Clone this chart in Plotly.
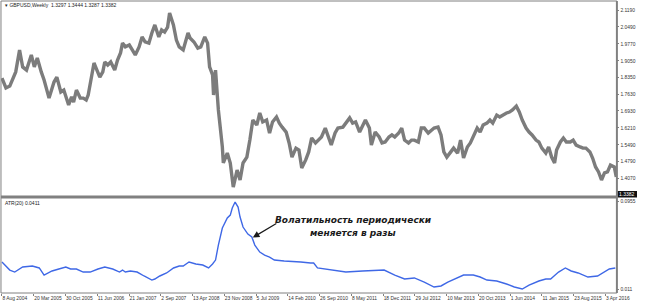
import plotly.graph_objects as go

# ---------------- data ----------------
price_dates = [
 "2004-08-08","2004-09-05","2004-10-02","2004-11-13","2004-12-10","2005-01-01","2005-01-28","2005-03-03","2005-03-24","2005-04-14",
 "2005-05-12","2005-06-01","2005-07-06","2005-07-27","2005-08-10","2005-08-30","2005-09-27","2005-10-18","2005-11-21","2005-12-12",
 "2005-12-26","2006-01-15","2006-02-11","2006-03-04","2006-03-25","2006-04-08","2006-04-28","2006-05-19","2006-06-02","2006-06-29",
 "2006-07-20","2006-08-03","2006-08-24","2006-09-14","2006-10-12","2006-11-01","2006-11-22","2006-12-06","2006-12-26","2007-01-23",
 "2007-02-13","2007-03-06","2007-04-02","2007-04-23","2007-05-14","2007-06-10","2007-07-01","2007-07-22","2007-08-19","2007-09-08",
 "2007-09-29","2007-10-20","2007-11-03","2007-11-30","2007-12-21","2008-01-10","2008-02-07","2008-02-20","2008-03-12","2008-03-26",
 "2008-04-23","2008-05-20","2008-06-10","2008-07-08","2008-07-28","2008-08-11","2008-09-01","2008-09-08","2008-09-22","2008-10-12",
 "2008-10-26","2008-11-09","2008-11-16","2008-12-14","2009-01-04","2009-01-25","2009-02-21","2009-03-14","2009-04-04","2009-05-01",
 "2009-05-22","2009-06-12","2009-07-10","2009-07-31","2009-08-21","2009-09-17","2009-10-08","2009-10-29","2009-11-26","2009-12-16",
 "2010-01-05","2010-02-02","2010-02-23","2010-03-15","2010-04-12","2010-05-03","2010-05-23","2010-06-20","2010-07-11","2010-08-01",
 "2010-08-28","2010-09-18","2010-10-09","2010-11-05","2010-11-26","2010-12-17","2011-01-13","2011-02-02","2011-03-09","2011-03-30",
 "2011-04-26","2011-05-17","2011-06-07","2011-07-05","2011-07-26","2011-08-15","2011-09-12","2011-09-26","2011-10-23","2011-11-20",
 "2011-12-10","2012-01-01","2012-01-28","2012-02-18","2012-03-09","2012-04-06","2012-04-27","2012-05-17","2012-06-14","2012-07-05",
 "2012-07-25","2012-08-22","2012-09-12","2012-10-03","2012-10-31","2012-11-21","2012-12-11","2013-01-08","2013-01-29","2013-02-18",
 "2013-03-11","2013-04-08","2013-04-28","2013-05-26","2013-06-16","2013-07-07","2013-08-03","2013-08-24","2013-09-14","2013-10-11",
 "2013-11-01","2013-11-22","2013-12-19","2014-01-09","2014-01-29","2014-02-26","2014-03-19","2014-04-08","2014-05-06","2014-05-27",
 "2014-06-17","2014-07-14","2014-08-04","2014-08-25","2014-09-21","2014-10-12","2014-11-02","2014-11-30","2014-12-20","2015-01-10",
 "2015-02-07","2015-02-27","2015-03-20","2015-04-10","2015-04-24","2015-05-21","2015-06-11","2015-07-02","2015-07-30","2015-08-19",
 "2015-09-09","2015-10-07","2015-10-27","2015-11-17","2015-12-15","2016-01-03","2016-01-24","2016-02-14","2016-03-06","2016-03-27",
 "2016-04-17","2016-05-08","2016-06-04","2016-06-18",
]
price_values = [
 1.832,1.790,1.798,1.858,1.951,1.879,1.866,1.930,1.879,1.917,
 1.858,1.824,1.747,1.794,1.815,1.836,1.773,1.781,1.718,1.752,
 1.730,1.781,1.747,1.747,1.739,1.760,1.836,1.896,1.875,1.836,
 1.858,1.900,1.887,1.900,1.866,1.908,1.938,1.980,1.964,1.972,
 1.951,1.930,1.964,2.006,1.985,1.980,2.023,2.057,2.006,2.036,
 2.027,2.048,2.108,2.057,1.993,1.964,1.951,1.980,2.023,2.002,
 1.985,1.959,1.964,2.006,1.980,1.879,1.845,1.760,1.866,1.697,
 1.624,1.540,1.472,1.514,1.472,1.370,1.442,1.400,1.472,1.497,
 1.569,1.654,1.633,1.684,1.646,1.654,1.599,1.646,1.667,1.641,
 1.624,1.603,1.557,1.497,1.535,1.527,1.451,1.485,1.519,1.578,
 1.557,1.569,1.582,1.620,1.578,1.548,1.599,1.620,1.624,1.641,
 1.663,1.641,1.646,1.603,1.633,1.654,1.620,1.548,1.603,1.582,
 1.557,1.561,1.582,1.591,1.582,1.599,1.620,1.569,1.557,1.569,
 1.569,1.561,1.620,1.620,1.599,1.612,1.620,1.624,1.591,1.519,
 1.497,1.519,1.535,1.514,1.569,1.493,1.540,1.557,1.582,1.620,
 1.603,1.633,1.641,1.654,1.641,1.675,1.667,1.675,1.684,1.688,
 1.697,1.713,1.688,1.654,1.620,1.603,1.591,1.569,1.561,1.535,
 1.514,1.540,1.497,1.472,1.527,1.561,1.578,1.561,1.561,1.569,
 1.548,1.540,1.535,1.535,1.519,1.493,1.455,1.434,1.400,1.430,
 1.434,1.463,1.455,1.413,
]

atr_dates = [
 "2004-08-08","2004-10-02","2004-11-06","2005-01-01","2005-03-10","2005-04-28","2005-06-01","2005-07-27","2005-09-13","2005-11-01",
 "2005-12-05","2006-01-15","2006-03-04","2006-04-22","2006-06-16","2006-08-03","2006-09-28","2006-11-15","2006-12-06","2006-12-26",
 "2007-01-30","2007-03-19","2007-05-07","2007-07-01","2007-07-22","2007-08-26","2007-10-13","2007-12-01","2008-01-10","2008-02-07",
 "2008-03-19","2008-05-06","2008-06-24","2008-08-04","2008-09-01","2008-09-22","2008-10-12","2008-11-09","2008-12-14","2009-01-04",
 "2009-01-18","2009-02-07","2009-02-28","2009-03-14","2009-04-04","2009-05-08","2009-06-05","2009-06-26","2009-07-31","2009-09-03",
 "2009-10-08","2009-11-11","2010-01-19","2010-03-29","2010-05-16","2010-07-24","2010-08-15","2010-09-11","2010-12-31","2011-03-30",
 "2011-07-26","2011-11-20","2011-12-25","2012-03-09","2012-05-17","2012-07-25","2012-10-03","2012-12-11","2013-01-29","2013-03-18",
 "2013-05-26","2013-07-07","2013-09-14","2013-11-01","2013-12-19","2014-02-26","2014-05-06","2014-06-30","2014-08-25","2014-10-12",
 "2014-12-20","2015-02-07","2015-03-13","2015-05-08","2015-06-25","2015-08-05","2015-09-23","2015-12-01","2016-02-07","2016-03-27",
 "2016-04-30","2016-06-11",
]
atr_values = [
 0.0369,0.0292,0.0273,0.0321,0.0331,0.0312,0.0244,0.0283,0.0302,0.0321,
 0.0302,0.0302,0.0273,0.0273,0.0302,0.0321,0.0302,0.0273,0.0292,0.0273,
 0.0283,0.0273,0.0235,0.0196,0.0206,0.0235,0.0264,0.0312,0.0331,0.0331,
 0.0369,0.0350,0.0340,0.0312,0.0350,0.0388,0.0532,0.0696,0.0792,0.0820,
 0.0888,0.0945,0.0897,0.0801,0.0705,0.0638,0.0609,0.0532,0.0465,0.0436,
 0.0417,0.0388,0.0379,0.0369,0.0369,0.0360,0.0360,0.0312,0.0292,0.0273,
 0.0283,0.0292,0.0292,0.0244,0.0206,0.0216,0.0177,0.0129,0.0139,0.0177,
 0.0216,0.0244,0.0244,0.0225,0.0196,0.0187,0.0158,0.0129,0.0110,0.0148,
 0.0187,0.0206,0.0206,0.0273,0.0312,0.0283,0.0264,0.0225,0.0235,0.0273,
 0.0302,0.0312,
]

price_ticks = [2.1190, 2.0490, 1.9770, 1.9050, 1.8350, 1.7630, 1.6930, 1.6210, 1.5490, 1.4790, 1.4070]
price_ticktext = ["2.1190", "2.0490", "1.9770", "1.9050", "1.8350", "1.7630", "1.6930", "1.6210", "1.5490", "1.4790", "1.4070"]
atr_ticks = [0.0955, 0.011]
atr_ticktext = ["0.0955", "0.011"]
date_ticks = ["2004-08-08","2005-03-20","2005-10-30","2006-06-11","2007-01-21","2007-09-02","2008-04-13","2008-11-23",
              "2009-07-05","2010-02-14","2010-09-26","2011-05-08","2011-12-18","2012-07-29","2013-03-10","2013-10-20",
              "2014-06-01","2015-01-11","2015-08-23","2016-04-03"]
date_ticktext = ["8 Aug 2004","20 Mar 2005","30 Oct 2005","11 Jun 2006","21 Jan 2007","2 Sep 2007","13 Apr 2008","23 Nov 2008",
                 "5 Jul 2009","14 Feb 2010","26 Sep 2010","8 May 2011","18 Dec 2011","29 Jul 2012","10 Mar 2013","20 Oct 2013",
                 "1 Jun 2014","11 Jan 2015","23 Aug 2015","3 Apr 2016"]

header_text = "▾ GBPUSD,Weekly  1.3297 1.3444 1.3287 1.3382"
atr_label = "ATR(20) 0.0411"
last_price_text = "1.3382"
note_line1 = "Волатильность периодически"
note_line2 = "меняется в разы"

# ---------------- layout helpers ----------------
W, H = 650, 305
def px(x):
    return x / W
def py(y):
    return (H - y) / H

FONT = "Liberation Sans, Arial, sans-serif"
GRID = "#808080"

fig = go.Figure()
fig.add_trace(go.Scatter(x=price_dates, y=price_values, mode="lines",
                         line=dict(color="#7c7c7c", width=3.4), xaxis="x", yaxis="y",
                         hoverinfo="skip", showlegend=False))
fig.add_trace(go.Scatter(x=atr_dates, y=atr_values, mode="lines",
                         line=dict(color="#3f68e6", width=1.4), xaxis="x2", yaxis="y2",
                         hoverinfo="skip", showlegend=False))

x_range = ["2004-08-01", "2016-06-19"]
fig.update_layout(
    width=W, height=H, margin=dict(l=0, r=0, t=0, b=0),
    paper_bgcolor="white", plot_bgcolor="white",
    font=dict(family=FONT, size=5, color="#333333"),
    xaxis=dict(domain=[px(1), px(629)], range=x_range, anchor="y",
               showgrid=False, zeroline=False, showticklabels=False, ticks=""),
    xaxis2=dict(domain=[px(1), px(629)], range=x_range, anchor="y2", matches="x",
                showgrid=False, zeroline=False, tickmode="array", tickvals=date_ticks,
                ticktext=date_ticktext, ticks="outside", ticklen=2, tickcolor=GRID,
                ticklabelposition="outside right", tickfont=dict(size=4.9, color="#333333"),
                tickangle=0),
    yaxis=dict(domain=[py(196), py(1)], range=[1.3321, 2.1585], side="right", anchor="x",
               showgrid=False, zeroline=False, tickmode="array", tickvals=price_ticks,
               ticktext=price_ticktext, ticks="outside", ticklen=2, tickcolor=GRID,
               tickfont=dict(size=4.9, color="#333333")),
    yaxis2=dict(domain=[py(293), py(198)], range=[0.00716, 0.0984], side="right", anchor="x2",
                showgrid=False, zeroline=False, tickmode="array", tickvals=atr_ticks,
                ticktext=atr_ticktext, ticks="outside", ticklen=2, tickcolor=GRID,
                tickfont=dict(size=4.9, color="#333333")),
)

shapes = [
    # outer frame of price window
    dict(type="line", xref="paper", yref="paper", x0=px(1), x1=px(629.5), y0=py(1), y1=py(1),
         line=dict(color=GRID, width=1)),
    dict(type="line", xref="paper", yref="paper", x0=px(1), x1=px(1), y0=py(1), y1=py(293),
         line=dict(color=GRID, width=1)),
    # separator between windows
    dict(type="line", xref="paper", yref="paper", x0=px(1), x1=px(629.5), y0=py(197), y1=py(197),
         line=dict(color=GRID, width=3)),
    # bottom of indicator window
    dict(type="line", xref="paper", yref="paper", x0=px(1), x1=px(629.5), y0=py(293), y1=py(293),
         line=dict(color=GRID, width=1)),
    # right scale line
    dict(type="line", xref="paper", yref="paper", x0=px(629.5), x1=px(629.5), y0=py(1), y1=py(293),
         line=dict(color=GRID, width=2)),
    # last price box
    dict(type="rect", xref="paper", yref="paper", x0=px(630.5), x1=px(650), y0=py(197.5), y1=py(191),
         fillcolor="#111111", line=dict(width=0)),
]
fig.update_layout(shapes=shapes)

annotations = [
    dict(text=header_text, xref="paper", yref="paper", x=px(3), y=py(5.5), xanchor="left",
         yanchor="middle", showarrow=False, font=dict(size=5, color="#222222")),
    dict(text=atr_label, xref="paper", yref="paper", x=px(3), y=py(202.5), xanchor="left",
         yanchor="middle", showarrow=False, font=dict(size=5, color="#222222")),
    dict(text=last_price_text, xref="paper", yref="paper", x=px(640), y=py(194.3), xanchor="center",
         yanchor="middle", showarrow=False, font=dict(size=5, color="white")),
    dict(text="<b><i>" + note_line1 + "</i></b>", xref="paper", yref="paper", x=px(360.5), y=py(220),
         xanchor="center", yanchor="middle", showarrow=False,
         font=dict(family="DejaVu Sans, sans-serif", size=9, color="#1a1a1a")),
    dict(text="<b><i>" + note_line2 + "</i></b>", xref="paper", yref="paper", x=px(360.5), y=py(233),
         xanchor="center", yanchor="middle", showarrow=False,
         font=dict(family="DejaVu Sans, sans-serif", size=9, color="#1a1a1a")),
    dict(text="", xref="paper", yref="paper", x=px(258), y=py(237.5), ax=25, ay=-15,
         showarrow=True, arrowhead=2, arrowsize=1.1, arrowwidth=1.2, arrowcolor="#1a1a1a",
         standoff=0),
]
fig.update_layout(annotations=annotations)

fig.write_html("out.html")
